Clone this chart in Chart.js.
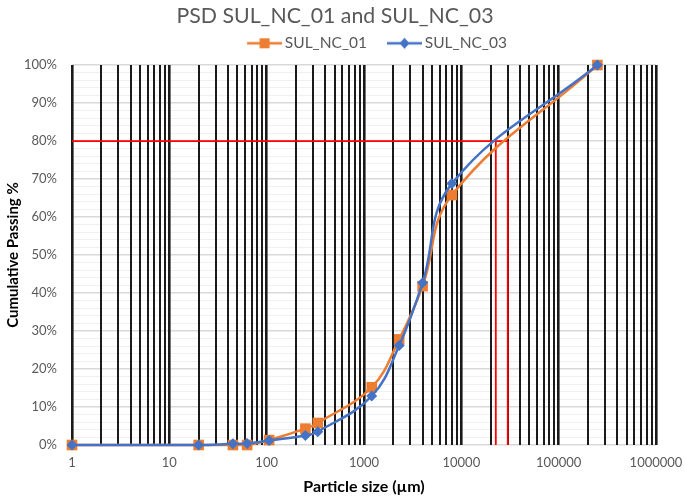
<!DOCTYPE html>
<html>
<head>
<meta charset="utf-8">
<script src="https://cdn.jsdelivr.net/npm/chart.js@4/dist/chart.umd.min.js"></script>
<style>
html,body{margin:0;padding:0;background:#fff;}
#wrap{width:685px;height:500px;}
</style>
</head>
<body>
<div id="wrap"><canvas id="c" width="685" height="500"></canvas></div>
<script>
// ---- data ----
const chartTitle = "PSD SUL_NC_01 and SUL_NC_03";
const seriesNames = ["SUL_NC_01", "SUL_NC_03"];
const particleSizes = [1, 20, 45, 63, 106, 250, 335, 1200, 2300, 4000, 8000, 250000];
const passingNC01 = [0, 0, 0, 0, 1.3, 4.3, 5.8, 15.2, 27.8, 41.8, 65.8, 100];
const passingNC03 = [0, 0, 0.3, 0.4, 1.2, 2.5, 3.5, 12.9, 26.2, 42.7, 68.8, 100];
const refLevel = 80;
const refSizes = [22600, 30000];
const xDecades = [1, 10, 100, 1000, 10000, 100000, 1000000];
const yMajorTicks = [0, 10, 20, 30, 40, 50, 60, 70, 80, 90, 100];

const ORANGE = '#ED7D31', BLUE = '#4472C4', RED = '#FF0000';
const FONT = 'Lato, "Open Sans", sans-serif';

// x grid ticks: 1..9 x each decade
const xGridTicks = [];
for (let i = 0; i < xDecades.length - 1; i++) {
  for (let m = 1; m <= 9; m++) xGridTicks.push(m * xDecades[i]);
}
xGridTicks.push(xDecades[xDecades.length - 1]);

function toXY(xs, ys) { return xs.map((x, i) => ({x: x, y: ys[i]})); }

function legendIcon(color, shape) {
  const cv = document.createElement('canvas');
  cv.width = 52; cv.height = 14;
  const g = cv.getContext('2d');
  g.strokeStyle = color; g.lineWidth = 2.5;
  g.beginPath(); g.moveTo(17, 7); g.lineTo(52, 7); g.stroke();
  g.fillStyle = color;
  const cx = 34.5;
  if (shape === 'square') {
    g.fillRect(cx - 5, 7 - 5, 10, 10);
  } else {
    g.beginPath(); g.moveTo(cx, 1.5); g.lineTo(cx + 5, 7); g.lineTo(cx, 12.5); g.lineTo(cx - 5, 7); g.closePath(); g.fill();
  }
  return cv;
}
const icons = [legendIcon(ORANGE, 'square'), legendIcon(BLUE, 'diamond')];

const boxShift = {
  id: 'boxShift',
  afterLayout(chart) {
    if (chart.legend) {
      chart.legend.left += 41; chart.legend.right += 41;
      chart.legend.top -= 4; chart.legend.bottom -= 4;
    }
    if (chart.titleBlock) {
      chart.titleBlock.left += 5; chart.titleBlock.right += 5;
    }
  }
};

const redLine = (pts) => ({
  label: '', data: pts, borderColor: RED, backgroundColor: RED,
  borderWidth: 1.8, pointRadius: 0, tension: 0, order: 5
});

new Chart(document.getElementById('c'), {
  type: 'line',
  data: {
    datasets: [
      {
        label: seriesNames[0], data: toXY(particleSizes, passingNC01),
        borderColor: ORANGE, backgroundColor: ORANGE, borderWidth: 2.5,
        pointStyle: 'rect', pointRadius: 7.5, pointHoverRadius: 7.5,
        pointBorderWidth: 0, tension: 0.4, order: 2, clip: false
      },
      {
        label: seriesNames[1], data: toXY(particleSizes, passingNC03),
        borderColor: BLUE, backgroundColor: BLUE, borderWidth: 2.5,
        pointStyle: 'rectRot', pointRadius: 5.5, pointHoverRadius: 5.5,
        pointBorderWidth: 0, tension: 0.4, order: 1, clip: false
      },
      redLine([{x: xDecades[0], y: refLevel}, {x: refSizes[1], y: refLevel}]),
      redLine([{x: refSizes[0], y: 0}, {x: refSizes[0], y: refLevel}]),
      redLine([{x: refSizes[1], y: 0}, {x: refSizes[1], y: refLevel}])
    ]
  },
  options: {
    responsive: false,
    animation: false,
    devicePixelRatio: 1,
    layout: {padding: {left: 4, right: 29, top: 3, bottom: 4}},
    plugins: {
      tooltip: {enabled: false},
      title: {
        display: true, text: chartTitle, color: '#595959',
        font: {family: FONT, size: 21.3, weight: 'normal'},
        padding: {top: 0, bottom: 3}
      },
      legend: {
        display: true, position: 'top', align: 'center',
        labels: {
          color: '#595959', font: {family: FONT, size: 15.5},
          usePointStyle: true, pointStyleWidth: 42, padding: 8,
          generateLabels: (chart) => chart.data.datasets.slice(0, 2).map((ds, i) => ({
            text: ds.label, pointStyle: icons[i], fillStyle: ds.borderColor,
            strokeStyle: ds.borderColor, lineWidth: 0, fontColor: '#595959',
            datasetIndex: i, hidden: false
          }))
        }
      }
    },
    scales: {
      x: {
        type: 'logarithmic', min: 1, max: 1000000,
        afterBuildTicks: (scale) => { scale.ticks = xGridTicks.map(v => ({value: v})); },
        afterFit: (scale) => { scale.height = 51; scale.paddingLeft = 0; scale.paddingRight = 0; },
        ticks: {
          autoSkip: false, maxRotation: 0, minRotation: 0, padding: 10,
          color: '#595959', font: {family: FONT, size: 13},
          callback: (v) => xDecades.includes(v) ? String(v) : ''
        },
        grid: {
          drawTicks: false, z: -1,
          color: '#1a1a1a',
          lineWidth: (ctx) => (ctx.tick && xDecades.includes(ctx.tick.value)) ? 2.6 : 2
        },
        border: {display: false},
        title: {
          display: true, text: 'Particle size (µm)', color: '#000',
          font: {family: FONT, size: 16, weight: 'bold'},
          padding: {top: 4, bottom: 0}
        }
      },
      y: {
        type: 'linear', min: 0, max: 100,
        afterFit: (scale) => { scale.width = 68; },
        ticks: {
          stepSize: 2, autoSkip: false, padding: 15,
          color: '#595959', font: {family: FONT, size: 13},
          callback: (v) => yMajorTicks.includes(v) ? v + '%' : ''
        },
        grid: {
          drawTicks: false, z: -2,
          color: (ctx) => (ctx.tick && yMajorTicks.includes(ctx.tick.value)) ? '#d9d9d9' : '#f0f0f0',
          lineWidth: (ctx) => (ctx.tick && yMajorTicks.includes(ctx.tick.value)) ? 1.5 : 1
        },
        border: {display: false},
        title: {
          display: true, text: 'Cumulative Passing %', color: '#000',
          font: {family: FONT, size: 15, weight: 'bold'},
          padding: {top: 0, bottom: 0}
        }
      }
    }
  },
  plugins: [boxShift]
});
</script>
</body>
</html>
